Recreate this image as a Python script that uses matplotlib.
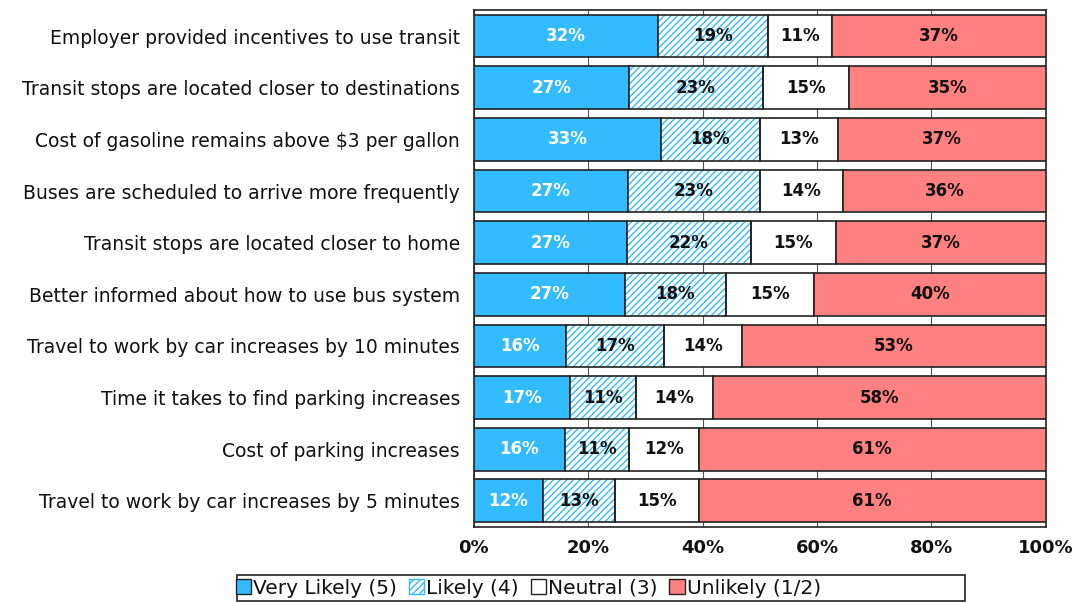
import matplotlib
matplotlib.use("Agg")
import matplotlib.pyplot as plt
from matplotlib.patches import Patch, Rectangle
import numpy as np

plt.rcParams["font.family"] = ["DejaVu Sans"]
plt.rcParams["hatch.linewidth"] = 1.0

# 题目（从上到下）
categories = [
    "Employer provided incentives to use transit",
    "Transit stops are located closer to destinations",
    "Cost of gasoline remains above $3 per gallon",
    "Buses are scheduled to arrive more frequently",
    "Transit stops are located closer to home",
    "Better informed about how to use bus system",
    "Travel to work by car increases by 10 minutes",
    "Time it takes to find parking increases",
    "Cost of parking increases",
    "Travel to work by car increases by 5 minutes",
]
series = ["Very Likely (5)", "Likely (4)", "Neutral (3)", "Unlikely (1/2)"]

# 条形长度（%），按图估计
very_likely = [32.2, 27.1, 32.7, 26.9, 26.7, 26.4, 16.1, 16.8, 15.9, 12.1]
likely = [19.2, 23.4, 17.3, 23.1, 21.7, 17.7, 17.1, 11.5, 11.2, 12.6]
neutral = [11.2, 15.1, 13.6, 14.5, 14.9, 15.3, 13.7, 13.5, 12.2, 14.6]
unlikely = [37.4, 34.4, 36.4, 35.5, 36.7, 40.6, 53.1, 58.2, 60.7, 60.7]

# 显示的标签
lbl_very = [32, 27, 33, 27, 27, 27, 16, 17, 16, 12]
lbl_likely = [19, 23, 18, 23, 22, 18, 17, 11, 11, 13]
lbl_neutral = [11, 15, 13, 14, 15, 15, 14, 14, 12, 15]
lbl_unlikely = [37, 35, 37, 36, 37, 40, 53, 58, 61, 61]

xticks = [0, 20, 40, 60, 80, 100]
xticklabels = ["0%", "20%", "40%", "60%", "80%", "100%"]

fig = plt.figure(figsize=(10.77, 6.02), dpi=100)
ax = fig.add_axes([0.440, 0.125, 0.531, 0.858])

y = np.arange(len(categories))
h = 0.83
vals = [very_likely, likely, neutral, unlikely]
lbls = [lbl_very, lbl_likely, lbl_neutral, lbl_unlikely]
faces = ["#33BBFF", "white", "white", "#FF8080"]
hatches = [None, "/////", None, None]
txt_colors = ["white", "#111111", "#111111", "#111111"]

left = np.zeros(len(categories))
for i in range(4):
    v = np.array(vals[i])
    bars = ax.barh(y, v, left=left, height=h, color=faces[i],
                   edgecolor="#222222", linewidth=1.2, hatch=hatches[i],
                   zorder=3)
    if hatches[i]:
        for b in bars:
            b.set_edgecolor("#33BBFF")
            b.set_linewidth(0)
        ax.barh(y, v, left=left, height=h, fill=False,
                edgecolor="#222222", linewidth=1.2, zorder=4)
    for j in range(len(categories)):
        ax.text(left[j] + v[j] / 2, y[j], f"{lbls[i][j]}%", ha="center",
                va="center", fontsize=12, fontweight="bold",
                color=txt_colors[i], zorder=5)
    left = left + v

ax.set_ylim(len(categories) - 0.5, -0.5)
ax.set_xlim(0, 100)
ax.set_yticks(y)
ax.set_yticklabels(categories, fontsize=13.5, color="#111111")
ax.set_xticks(xticks)
ax.set_xticklabels(xticklabels, fontsize=13, fontweight="bold", color="#111111")
ax.tick_params(axis="y", length=0, pad=10)
ax.tick_params(axis="x", length=0, pad=9)
ax.xaxis.grid(True, color="#555555", linewidth=0.8, zorder=0)
for s in ax.spines.values():
    s.set_color("#222222")
    s.set_linewidth(1.2)

# 图例（框比文字宽，靠左排列）
leg_handles = [
    Patch(facecolor="#33BBFF", edgecolor="#222222"),
    Patch(facecolor="white", edgecolor="#33BBFF", hatch="/////"),
    Patch(facecolor="white", edgecolor="#222222"),
    Patch(facecolor="#FF8080", edgecolor="#222222"),
]
leg = fig.legend(leg_handles, series, loc="center left",
                 bbox_to_anchor=(0.219, 0.023), ncol=4, fontsize=14.5,
                 handlelength=0.75, handleheight=0.75, handletextpad=0.1,
                 columnspacing=0.6, borderpad=0.0, borderaxespad=0.0,
                 frameon=False)
for t in leg.get_texts():
    t.set_color("#111111")
fig.patches.append(Rectangle((0.220, 0.002), 0.676, 0.043,
                             transform=fig.transFigure, fill=False,
                             edgecolor="#222222", linewidth=1.2))

fig.savefig("out.png", dpi=100)
